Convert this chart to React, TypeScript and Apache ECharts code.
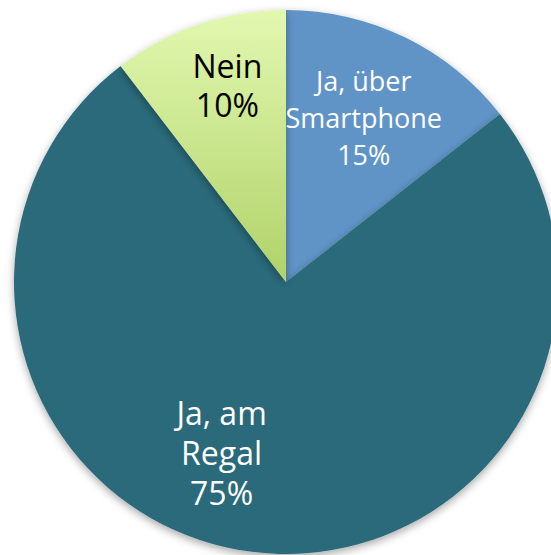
import React, { useEffect, useRef } from "react";
import * as echarts from "echarts";

const categories = ["Ja, über\nSmartphone", "Ja, am\nRegal", "Nein"];
const values = [14.4, 75.2, 10.4];
const pctLabels = ["15%", "75%", "10%"];
const colors = ["#6094c7", "#2a6a7a", "green"];
const labelColors = ["#ffffff", "#ffffff", "#000000"];
const labelSizes = [27, 32, 32];
const labelLineHeights = [37, 40, 39];
const labelOffsets = [[17, -39], [-47, 33], [-14, -65]];

export default function App() {
  const ref = useRef<HTMLDivElement>(null);
  useEffect(() => {
    const chart = echarts.init(ref.current!, null, { renderer: "svg" });
    const green = new echarts.graphic.LinearGradient(0, 0, 0, 1, [
      { offset: 0, color: "#e2f8b0" },
      { offset: 1, color: "#b0d268" },
    ]);
    chart.setOption({
      animation: false,
      backgroundColor: "#ffffff",
      series: [
        {
          type: "pie",
          center: [286, 282],
          radius: [0, 272],
          startAngle: 90,
          clockwise: true,
          avoidLabelOverlap: false,
          itemStyle: {
            shadowColor: "rgba(0,0,0,0.35)",
            shadowBlur: 8,
            shadowOffsetY: 3,
            borderWidth: 0,
          },
          label: {
            show: true,
            position: "inside",
            fontFamily: "Open Sans",
            align: "center",
            formatter: (p: any) => `${p.name}\n${pctLabels[p.dataIndex]}`,
          },
          labelLine: { show: false },
          emphasis: { disabled: true },
          data: categories.map((name, i) => ({
            name,
            value: values[i],
            itemStyle: { color: i === 2 ? green : colors[i] },
            label: {
              color: labelColors[i],
              offset: labelOffsets[i],
              fontSize: labelSizes[i],
              lineHeight: labelLineHeights[i],
            },
          })),
        },
      ],
    });
    return () => chart.dispose();
  }, []);
  return (
    <div
      ref={ref}
      style={{ position: "fixed", left: 0, top: 0, width: 551, height: 555 }}
    />
  );
}
